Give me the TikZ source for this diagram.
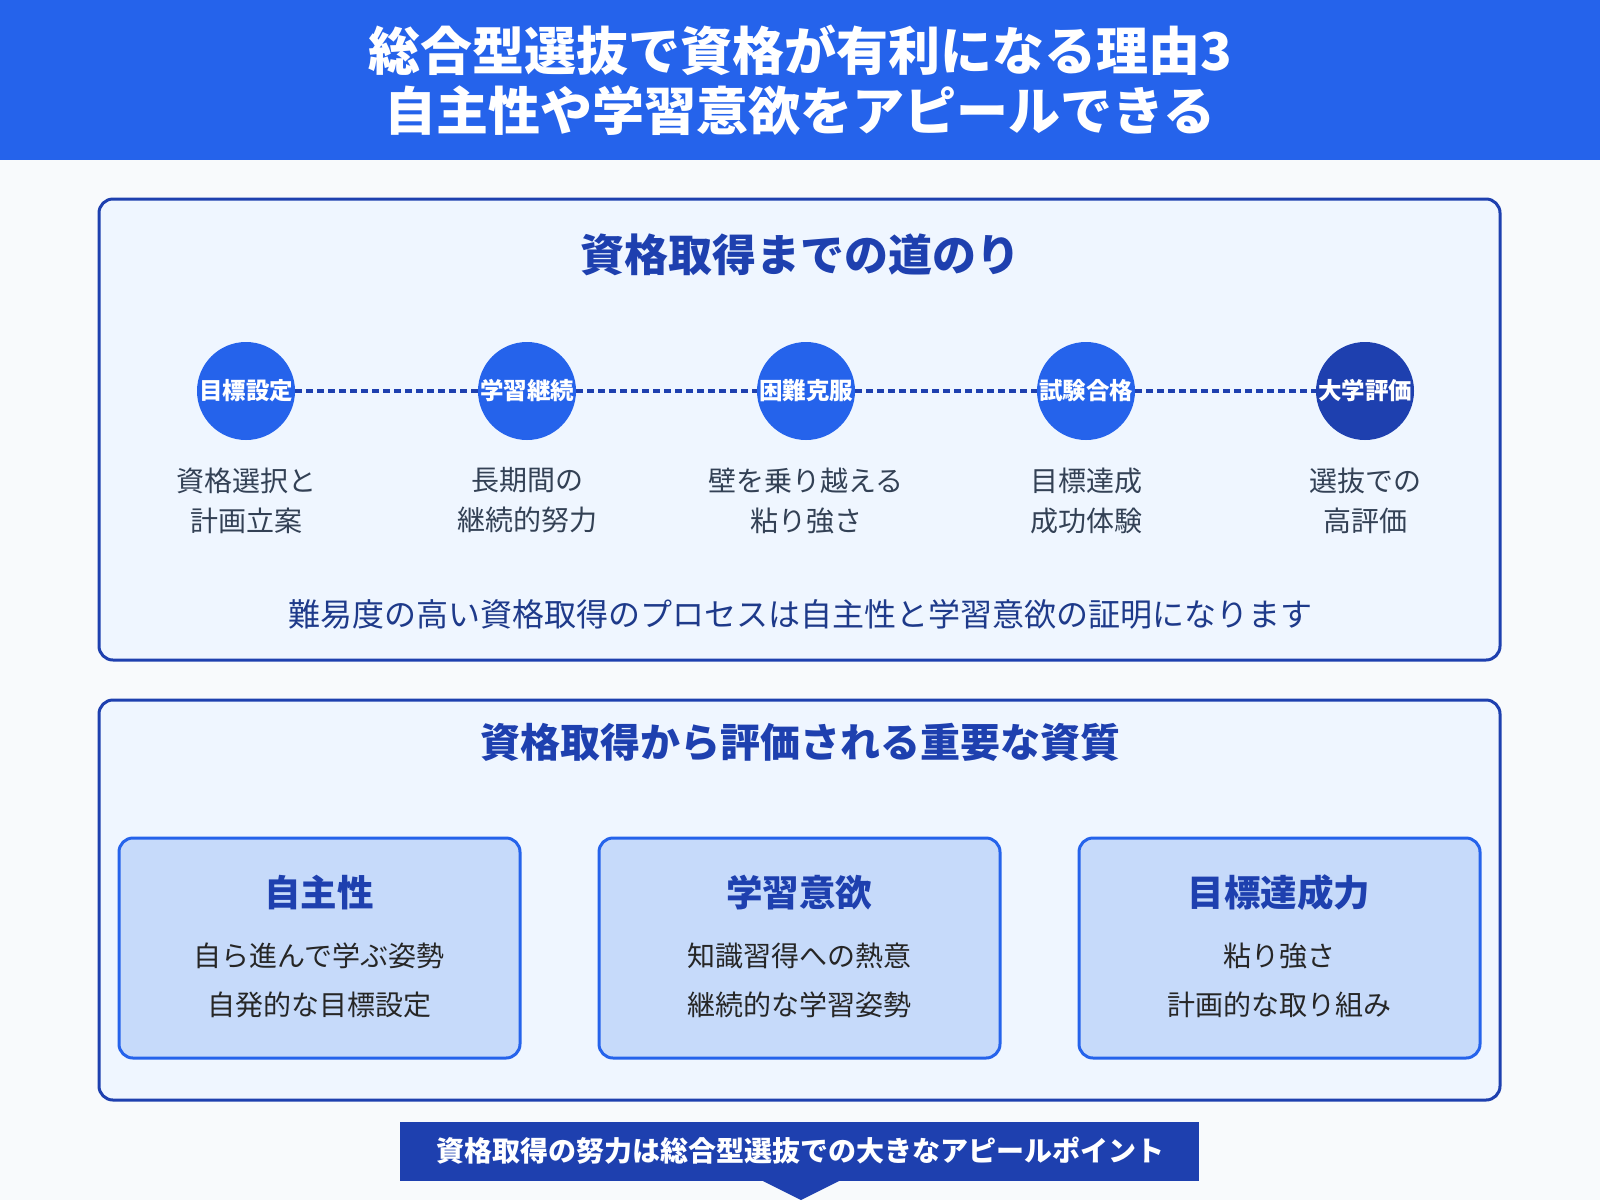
\documentclass[tikz,border=0pt]{standalone}
\usepackage{fontspec}
\setmainfont{Noto Sans CJK JP}
\usetikzlibrary{positioning}
\definecolor{myblue}{HTML}{2563EB}
\definecolor{mydarkblue}{HTML}{1E40AF}
\definecolor{mypale}{HTML}{EFF6FF}
\definecolor{mycard}{HTML}{C6DAFA}
\definecolor{myback}{HTML}{F8FAFC}
\definecolor{mytext}{HTML}{1E3A8A}
\definecolor{mygray}{HTML}{334155}
\tikzset{
  panel/.style={draw=mydarkblue, line width=3pt, fill=mypale, rounded corners=14pt},
  card/.style={draw=myblue, line width=3pt, fill=mycard, rounded corners=14pt},
  stepdot/.style={circle, fill=myblue, minimum size=98pt, inner sep=0pt, text=white, font=\fontsize{23.5}{26}\selectfont\bfseries},
  steplabel/.style={text=mygray, align=center, font=\fontsize{28}{40}\selectfont},
  headtext/.style={text=mydarkblue, font=\fontsize{44}{48}\selectfont\bfseries},
  cardtitle/.style={text=mydarkblue, font=\fontsize{36.5}{40}\selectfont\bfseries},
  cardline/.style={text=black!85, font=\fontsize{28}{30}\selectfont}
}
\begin{document}
\begin{tikzpicture}[x=1pt, y=-1pt]

% BACKGROUND
\fill[myback] (0,0) rectangle (1600,1200);
\useasboundingbox (0,0) rectangle (1600,1200);

% HEADER
\fill[myblue] (0,0) rectangle (1600,160);
\node[text=white, align=center, font=\fontsize{52}{60}\selectfont\bfseries] (title) at (800,80) {総合型選抜で資格が有利になる理由\textit{3}\\自主性や学習意欲をアピールできる};

% ROAD PANEL
\draw[panel] (99,199) rectangle (1500,660);
\node[headtext] (roadtitle) at (800,255) {資格取得までの道のり};
\foreach \x/\name/\t in {246/s1/目標設定, 527/s2/学習継続, 806/s3/困難克服, 1086/s4/試験合格} {
  \node[stepdot] (\name) at (\x,391) {\t};
}
\node[stepdot, fill=mydarkblue] (s5) at (1365,391) {大学評価};
\foreach \a/\b in {s1/s2, s2/s3, s3/s4, s4/s5} {
  \draw[mydarkblue, line width=4pt, dash pattern=on 7pt off 4pt] (\a) -- (\b);
}
\node[steplabel, below=24pt of s1] (l1) {資格選択と\\計画立案};
\node[steplabel, below=24pt of s2] (l2) {長期間の\\継続的努力};
\node[steplabel, below=24pt of s3] (l3) {壁を乗り越える\\粘り強さ};
\node[steplabel, below=24pt of s4] (l4) {目標達成\\成功体験};
\node[steplabel, below=24pt of s5] (l5) {選抜での\\高評価};
\node[text=mytext, font=\fontsize{32}{34}\selectfont] (roadnote) at (800,614) {難易度の高い資格取得のプロセスは自主性と学習意欲の証明になります};

% QUALITY PANEL
\draw[panel] (99,700) rectangle (1500,1100);
\node[headtext, font=\fontsize{40}{44}\selectfont\bfseries] (qualtitle) at (800,742) {資格取得から評価される重要な資質};
\foreach \x/\name/\t/\la/\lb in {119/c1/自主性/自ら進んで学ぶ姿勢/自発的な目標設定, 599/c2/学習意欲/知識習得への熱意/継続的な学習姿勢, 1079/c3/目標達成力/粘り強さ/計画的な取り組み} {
  \draw[card] (\x,838) rectangle ++(401,220);
  \node[cardtitle] (\name) at ({\x+200},893) {\t};
  \node[cardline] (\name a) at ({\x+200},956) {\la};
  \node[cardline] (\name b) at ({\x+200},1005) {\lb};
}

% BANNER
\fill[mydarkblue] (400,1122) rectangle (1199,1181);
\fill[mydarkblue] (763,1181) -- (839,1181) -- (801,1200) -- cycle;
\node[text=white, font=\fontsize{28}{30}\selectfont\bfseries] (banner) at (800,1151) {資格取得の努力は総合型選抜での大きなアピールポイント};

\end{tikzpicture}
\end{document}
